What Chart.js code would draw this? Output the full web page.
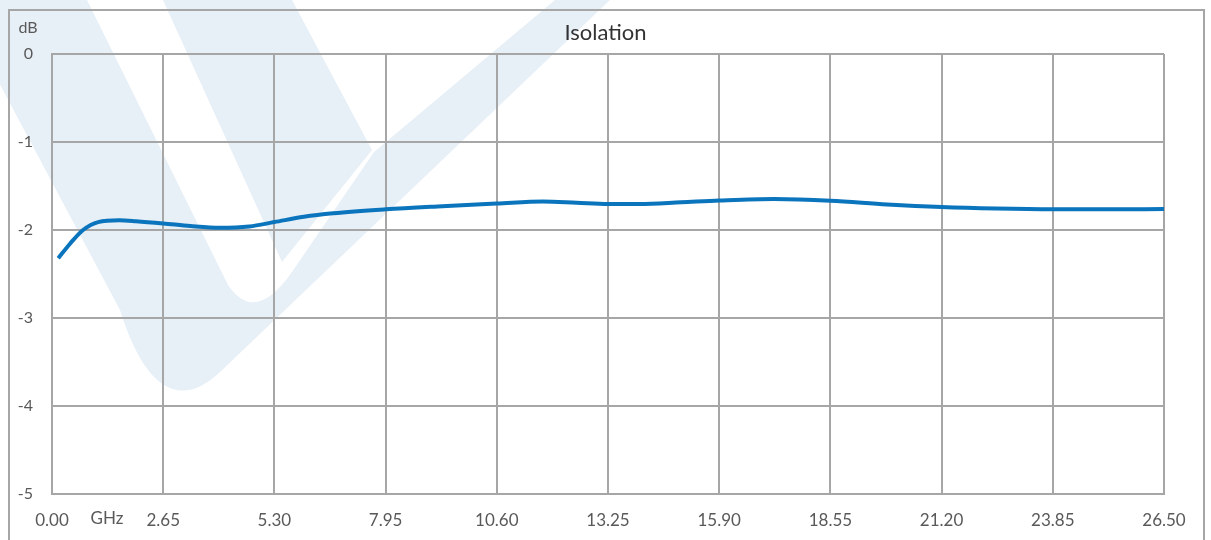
<!DOCTYPE html>
<html>
<head>
<meta charset="utf-8">
<script src="https://cdn.jsdelivr.net/npm/chart.js@4/dist/chart.umd.min.js"></script>
<style>
  html, body { margin: 0; padding: 0; background: #fff; }
  .chart-container { position: relative; width: 1211px; height: 540px; }
</style>
</head>
<body>
<div class="chart-container">
  <canvas id="isolation"></canvas>
</div>
<script>
// frequency (GHz) and isolation (dB)
const freqs = [0.15, 0.44, 0.74, 1.1, 1.6, 2.0, 2.65, 3.3, 4.0, 4.7, 5.3, 6.0, 6.7, 7.95, 9.3, 10.6, 11.7, 12.5, 13.25, 14.0, 15.0, 15.9, 17.2, 18.55, 19.9, 21.2, 22.5, 23.85, 25.2, 26.5];
const isolation = [-2.32, -2.15, -2.0, -1.91, -1.89, -1.9, -1.925, -1.955, -1.975, -1.96, -1.91, -1.85, -1.81, -1.765, -1.73, -1.7, -1.675, -1.69, -1.705, -1.705, -1.685, -1.665, -1.648, -1.667, -1.71, -1.74, -1.757, -1.765, -1.765, -1.762];

const xTicks = [0, 2.65, 5.3, 7.95, 10.6, 13.25, 15.9, 18.55, 21.2, 23.85, 26.5];
const yTicks = [0, -1, -2, -3, -4, -5];

const titleText = 'Isolation';
const gridColor = '#a6a6a6';
const textColor = '#595959';
const fontFamily = 'Lato, "Open Sans", sans-serif';

// light logo watermark, frame, title and the unit labels
const decorations = {
  id: 'decorations',
  beforeDraw(chart) {
    const ctx = chart.ctx;
    ctx.save();
    ctx.fillStyle = '#e7eff7';
    ctx.beginPath();
    ctx.moveTo(-45, 0);
    ctx.lineTo(120, 310);
    ctx.bezierCurveTo(145, 390, 180, 410, 220, 372);
    ctx.lineTo(610, 0);
    ctx.lineTo(555, 0);
    ctx.lineTo(374, 152);
    ctx.lineTo(292, 272);
    ctx.quadraticCurveTo(255, 325, 228, 285);
    ctx.lineTo(87, 0);
    ctx.closePath();
    ctx.fill();

    ctx.beginPath();
    ctx.moveTo(163, 0);
    ctx.lineTo(292, 0);
    ctx.lineTo(372, 150);
    ctx.lineTo(282, 262);
    ctx.closePath();
    ctx.fill();

    ctx.strokeStyle = gridColor;
    ctx.lineWidth = 2;
    ctx.strokeRect(9, 10, 1195, 560);
    ctx.restore();
  },
  afterDraw(chart) {
    const ctx = chart.ctx;
    const area = chart.chartArea;
    ctx.save();
    ctx.textAlign = 'center';
    ctx.textBaseline = 'middle';
    ctx.fillStyle = '#333333';
    ctx.font = '22px ' + fontFamily;
    ctx.fillText(titleText, chart.width / 2, 33);
    ctx.fillStyle = textColor;
    ctx.font = '16px ' + fontFamily;
    ctx.fillText('dB', 28, 28);
    ctx.font = '17px ' + fontFamily;
    ctx.textBaseline = 'top';
    ctx.fillText('GHz', 107, area.bottom + 16);
    ctx.restore();
  }
};

new Chart(document.getElementById('isolation'), {
  type: 'line',
  data: {
    datasets: [{
      label: titleText,
      data: freqs.map((f, i) => ({ x: f, y: isolation[i] })),
      borderColor: '#0a74bd',
      borderWidth: 4,
      pointRadius: 0,
      fill: false,
      cubicInterpolationMode: 'monotone'
    }]
  },
  options: {
    responsive: true,
    maintainAspectRatio: false,
    animation: false,
    layout: {
      padding: { left: 0, right: 47, top: 54, bottom: 0 }
    },
    plugins: {
      legend: { display: false },
      tooltip: { enabled: false },
      title: { display: false }
    },
    scales: {
      x: {
        type: 'linear',
        min: 0,
        max: 26.5,
        afterBuildTicks: (scale) => { scale.ticks = xTicks.map(v => ({ value: v })); },
        afterFit: (scale) => { scale.height = 46; },
        grid: { color: gridColor, lineWidth: 2, drawTicks: false },
        border: { color: gridColor, width: 2 },
        ticks: {
          color: textColor,
          padding: 16,
          maxRotation: 0,
          autoSkip: false,
          font: { family: fontFamily, size: 17 },
          callback: (value) => Number(value).toFixed(2)
        }
      },
      y: {
        min: -5,
        max: 0,
        afterBuildTicks: (scale) => { scale.ticks = yTicks.map(v => ({ value: v })); },
        afterFit: (scale) => { scale.width = 52; },
        grid: { color: gridColor, lineWidth: 2, drawTicks: false },
        border: { color: gridColor, width: 2 },
        ticks: {
          color: textColor,
          padding: 19,
          font: { family: fontFamily, size: 16 },
          callback: (value) => String(value)
        }
      }
    }
  },
  plugins: [decorations]
});
</script>
</body>
</html>
